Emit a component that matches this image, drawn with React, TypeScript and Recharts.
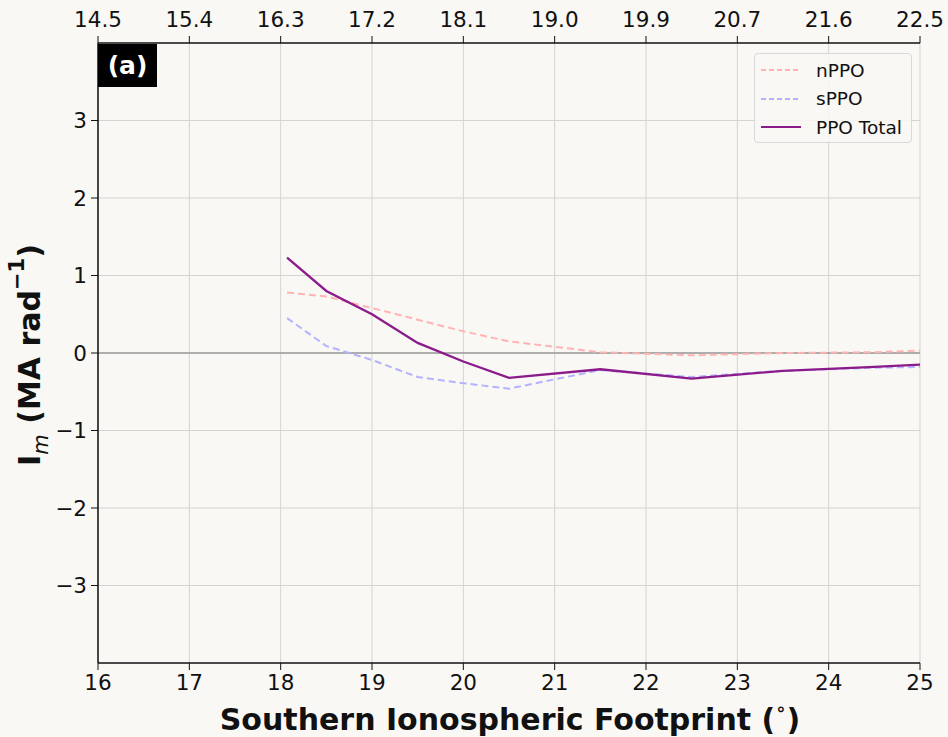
import {
  ComposedChart,
  Line,
  XAxis,
  YAxis,
  CartesianGrid,
  ReferenceLine,
} from 'recharts'

// southern footprint (deg) and field-aligned current per radian (MA/rad)
const footprint = [18.07, 18.5, 19.0, 19.5, 20.0, 20.5, 21.5, 22.5, 23.5, 24.5, 25.0]
const nPPO      = [0.78, 0.73, 0.58, 0.43, 0.28, 0.15, 0.01, -0.03, 0.0, 0.01, 0.03]
const sPPO      = [0.45, 0.09, -0.09, -0.31, -0.39, -0.46, -0.22, -0.31, -0.23, -0.19, -0.18]
const ppoTotal  = [1.23, 0.80, 0.50, 0.13, -0.11, -0.32, -0.21, -0.33, -0.23, -0.18, -0.15]

const bottomTicks = [16, 17, 18, 19, 20, 21, 22, 23, 24, 25]
const topTickLabels = ['14.5', '15.4', '16.3', '17.2', '18.1', '19.0', '19.9', '20.7', '21.6', '22.5']
const yTicks = [-3, -2, -1, 0, 1, 2, 3]

const BG     = '#f9f8f5'
const GRID   = '#d4d3d0'
const RED    = '#ffb3b3'
const BLUE   = '#b3b3ff'
const PURPLE = '#8b1a8b'
const FONT   = '"DejaVu Sans", sans-serif'

const data = footprint.map((f, i) => ({
  f,
  nPPO: nPPO[i],
  sPPO: sPPO[i],
  total: ppoTotal[i],
}))

const tickStyle = { fontSize: 21.5, fill: '#111', fontFamily: FONT }
const minus = (v: number) => String(v).replace('-', '\u2212')

function YTitle() {
  return (
    <text
      x={29}
      y={355}
      transform="rotate(-90 29 355)"
      textAnchor="middle"
      dominantBaseline="central"
      fontFamily={FONT}
      fontWeight="bold"
      fontSize={30}
      fill="#111"
    >
      I
      <tspan baselineShift="sub" fontSize={21} fontStyle="italic" fontWeight="normal">m</tspan>
      <tspan baselineShift="0"> (MA rad</tspan>
      <tspan baselineShift="super" fontSize={21}>{'\u22121'}</tspan>
      <tspan baselineShift="0">)</tspan>
    </text>
  )
}

function XTitle() {
  return (
    <text
      x={510}
      y={719}
      textAnchor="middle"
      dominantBaseline="central"
      fontFamily={FONT}
      fontWeight="bold"
      fontSize={30}
      fill="#111"
    >
      Southern Ionospheric Footprint (
      <tspan baselineShift="super" fontSize={18}>{'\u2218'}</tspan>
      <tspan baselineShift="0">)</tspan>
    </text>
  )
}

function LegendBox() {
  const items = [
    { name: 'nPPO', color: RED, dash: '5 3', width: 1.8 },
    { name: 'sPPO', color: BLUE, dash: '5 3', width: 1.8 },
    { name: 'PPO Total', color: PURPLE, dash: undefined, width: 2.2 },
  ]
  return (
    <div
      style={{
        position: 'absolute',
        left: 754,
        top: 53,
        width: 158,
        height: 90,
        border: '1px solid #d8d8d8',
        borderRadius: 4,
        background: 'rgba(249,248,245,0.85)',
        fontFamily: FONT,
        fontSize: 18.5,
        color: '#111',
        boxSizing: 'border-box',
        paddingTop: 2,
      }}
    >
      {items.map((it) => (
        <div key={it.name} style={{ display: 'flex', alignItems: 'center', height: 28.5 }}>
          <svg width={55} height={10} style={{ marginLeft: 6 }}>
            <line x1={0} y1={5} x2={40} y2={5} stroke={it.color} strokeWidth={it.width} strokeDasharray={it.dash} />
          </svg>
          <span>{it.name}</span>
        </div>
      ))}
    </div>
  )
}

export default function App() {
  return (
    <div style={{ position: 'absolute', left: 0, top: 0, width: 948, height: 737, background: BG }}>
      <ComposedChart
        width={948}
        height={737}
        data={data}
        margin={{ top: 13, right: 28, left: 38, bottom: 24 }}
      >
        <CartesianGrid
          xAxisId="bottom"
          yAxisId="left"
          stroke={GRID}
          strokeWidth={1}
          horizontalValues={yTicks}
          verticalValues={bottomTicks}
        />
        <XAxis
          xAxisId="bottom"
          dataKey="f"
          type="number"
          domain={[16, 25]}
          ticks={bottomTicks}
          orientation="bottom"
          height={50}
          tick={tickStyle}
          tickSize={7}
          tickMargin={5}
          stroke="#111"
          axisLine={{ stroke: '#111', strokeWidth: 1.5 }}
          allowDataOverflow
        />
        <XAxis
          xAxisId="top"
          dataKey="f"
          type="number"
          domain={[16, 25]}
          ticks={bottomTicks}
          orientation="top"
          height={30}
          tick={tickStyle}
          tickFormatter={(v: number) => topTickLabels[bottomTicks.indexOf(v)] ?? ''}
          tickSize={7}
          tickMargin={9}
          stroke="#111"
          axisLine={{ stroke: '#111', strokeWidth: 1.5 }}
          allowDataOverflow
        />
        <YAxis
          yAxisId="left"
          type="number"
          domain={[-4, 4]}
          ticks={yTicks}
          width={60}
          tick={tickStyle}
          tickFormatter={minus}
          tickSize={7}
          tickMargin={4}
          stroke="#111"
          axisLine={{ stroke: '#111', strokeWidth: 1.5 }}
          label={{ content: () => <YTitle /> }}
          allowDataOverflow
        />
        <YAxis
          yAxisId="right"
          orientation="right"
          type="number"
          domain={[-4, 4]}
          width={0}
          tick={false}
          tickLine={false}
          axisLine={{ stroke: '#111', strokeWidth: 1.5 }}
          allowDataOverflow
        />
        <ReferenceLine xAxisId="bottom" yAxisId="left" y={0} stroke="#9a9a9a" strokeWidth={1.5} />
        <Line
          xAxisId="bottom"
          yAxisId="left"
          dataKey="nPPO"
          type="linear"
          stroke={RED}
          strokeWidth={2}
          strokeDasharray="7 4"
          dot={false}
          isAnimationActive={false}
        />
        <Line
          xAxisId="bottom"
          yAxisId="left"
          dataKey="sPPO"
          type="linear"
          stroke={BLUE}
          strokeWidth={2}
          strokeDasharray="7 4"
          dot={false}
          isAnimationActive={false}
        />
        <Line
          xAxisId="bottom"
          yAxisId="left"
          dataKey="total"
          type="linear"
          stroke={PURPLE}
          strokeWidth={2.3}
          dot={false}
          isAnimationActive={false}
        />
        <XTitle />
      </ComposedChart>
      <div
        style={{
          position: 'absolute',
          left: 98,
          top: 44,
          width: 59,
          height: 43,
          background: '#000',
          color: '#fff',
          fontFamily: FONT,
          fontWeight: 'bold',
          fontSize: 25,
          display: 'flex',
          alignItems: 'center',
          justifyContent: 'center',
        }}
      >
        (a)
      </div>
      <LegendBox />
    </div>
  )
}
